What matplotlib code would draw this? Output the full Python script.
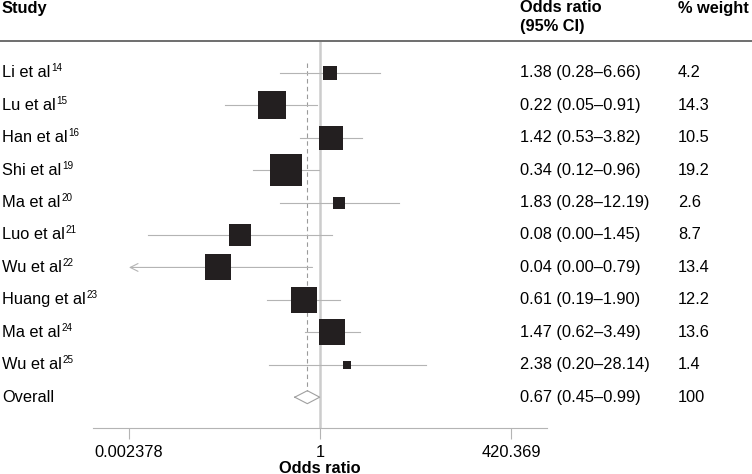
import numpy as np
import matplotlib.pyplot as plt
from matplotlib.transforms import blended_transform_factory

plt.rcParams['font.family'] = ['Liberation Sans', 'DejaVu Sans']

# data
studies = ["Li et al", "Lu et al", "Han et al", "Shi et al", "Ma et al",
           "Luo et al", "Wu et al", "Huang et al", "Ma et al", "Wu et al"]
refs = ["14", "15", "16", "19", "20", "21", "22", "23", "24", "25"]
odds = [1.38, 0.22, 1.42, 0.34, 1.83, 0.08, 0.04, 0.61, 1.47, 2.38]
ci_low = [0.28, 0.05, 0.53, 0.12, 0.28, 0.0043, 0.002, 0.19, 0.62, 0.20]
ci_high = [6.66, 0.91, 3.82, 0.96, 12.19, 1.45, 0.79, 1.90, 3.49, 28.14]
ci_text = ["1.38 (0.28–6.66)", "0.22 (0.05–0.91)", "1.42 (0.53–3.82)",
           "0.34 (0.12–0.96)", "1.83 (0.28–12.19)", "0.08 (0.00–1.45)",
           "0.04 (0.00–0.79)", "0.61 (0.19–1.90)", "1.47 (0.62–3.49)",
           "2.38 (0.20–28.14)"]
weights = [4.2, 14.3, 10.5, 19.2, 2.6, 8.7, 13.4, 12.2, 13.6, 1.4]
overall = (0.67, 0.45, 0.99)
overall_text = "0.67 (0.45–0.99)"
overall_weight = "100"
tick_vals = [0.002378, 1, 420.369]
tick_labels = ["0.002378", "1", "420.369"]

W, H = 752, 474
fig = plt.figure(figsize=(W / 100, H / 100), dpi=100)
ax_left, ax_right, ax_top, ax_bot = 93, 547, 42, 428
ax = fig.add_axes([ax_left / W, 1 - ax_bot / H, (ax_right - ax_left) / W, (ax_bot - ax_top) / H])
ax.set_xscale('log')
ax.set_xlim(10 ** -3.118, 10 ** 3.118)
ax.set_ylim(10.95, -0.95)

fs = 11.8
box_col = '#231f20'
line_col = '#b4b4b4'

# reference line at 1 and dashed overall line
ax.axvline(1, color='#cccccc', lw=1.8, zorder=1)
ax.plot([overall[0], overall[0]], [-0.3, 9.8], color='#9a9a9a', lw=0.8,
        ls=(0, (4, 3)), zorder=1)

xmin = tick_vals[0]
for i in range(len(studies)):
    lo = ci_low[i]
    if lo < xmin:
        ax.annotate('', xy=(xmin, i), xytext=(ci_high[i], i),
                    arrowprops=dict(arrowstyle='->', color=line_col, lw=0.8,
                                    shrinkA=0, shrinkB=0, mutation_scale=14),
                    zorder=2)
    else:
        ax.plot([lo, ci_high[i]], [i, i], color=line_col, lw=0.8, zorder=2)
    side = 7.3 * np.sqrt(weights[i]) * 0.72
    ax.plot(odds[i], i, marker='s', markersize=side, color=box_col,
            markeredgewidth=0, zorder=3)

# overall diamond
yo = len(studies)
dx = [overall[1], overall[0], overall[2], overall[0], overall[1]]
dy = [yo, yo - 0.2, yo, yo + 0.2, yo]
ax.plot(dx, dy, color='#a0a0a0', lw=0.8, zorder=3)

for s in ['top', 'right', 'left']:
    ax.spines[s].set_visible(False)
ax.spines['bottom'].set_color('#b4b4b4')
ax.set_yticks([])
ax.set_xticks(tick_vals)
ax.set_xticklabels(tick_labels, fontsize=fs)
ax.xaxis.set_minor_locator(plt.NullLocator())
ax.tick_params(axis='x', length=8, color='#b4b4b4', pad=4)
ax.set_xlabel("Odds ratio", fontsize=fs, fontweight='bold', labelpad=1)

# text columns
tr = blended_transform_factory(fig.transFigure, ax.transData)
labels = []
for i in range(len(studies)):
    t = ax.text(2 / W, i, studies[i], transform=tr, fontsize=fs, va='center', ha='left')
    labels.append(t)
    ax.text(520 / W, i, ci_text[i], transform=tr, fontsize=fs, va='center', ha='left')
    ax.text(678 / W, i, f"{weights[i]}", transform=tr, fontsize=fs, va='center', ha='left')
ax.text(2 / W, yo, "Overall", transform=tr, fontsize=fs, va='center', ha='left')
ax.text(520 / W, yo, overall_text, transform=tr, fontsize=fs, va='center', ha='left')
ax.text(678 / W, yo, overall_weight, transform=tr, fontsize=fs, va='center', ha='left')

# superscript reference numbers after each study name
fig.canvas.draw()
for t, r in zip(labels, refs):
    bb = t.get_window_extent()
    fig.text((bb.x1 + 1) / W, (bb.y1 + 2) / H, r, fontsize=fs * 0.6, va='top', ha='left')

# header
fig.text(2 / W, 1 - 8 / H, "Study", fontsize=fs, fontweight='bold', va='center')
fig.text(520 / W, 1 - 8 / H, "Odds ratio", fontsize=fs, fontweight='bold', va='center')
fig.text(520 / W, 1 - 27 / H, "(95% CI)", fontsize=fs, fontweight='bold', va='center')
fig.text(678 / W, 1 - 8 / H, "% weight", fontsize=fs, fontweight='bold', va='center')
fig.add_artist(plt.Line2D([0, 1], [1 - 41 / H, 1 - 41 / H], color='#555555', lw=1.2))

fig.savefig("out.png", dpi=100)
